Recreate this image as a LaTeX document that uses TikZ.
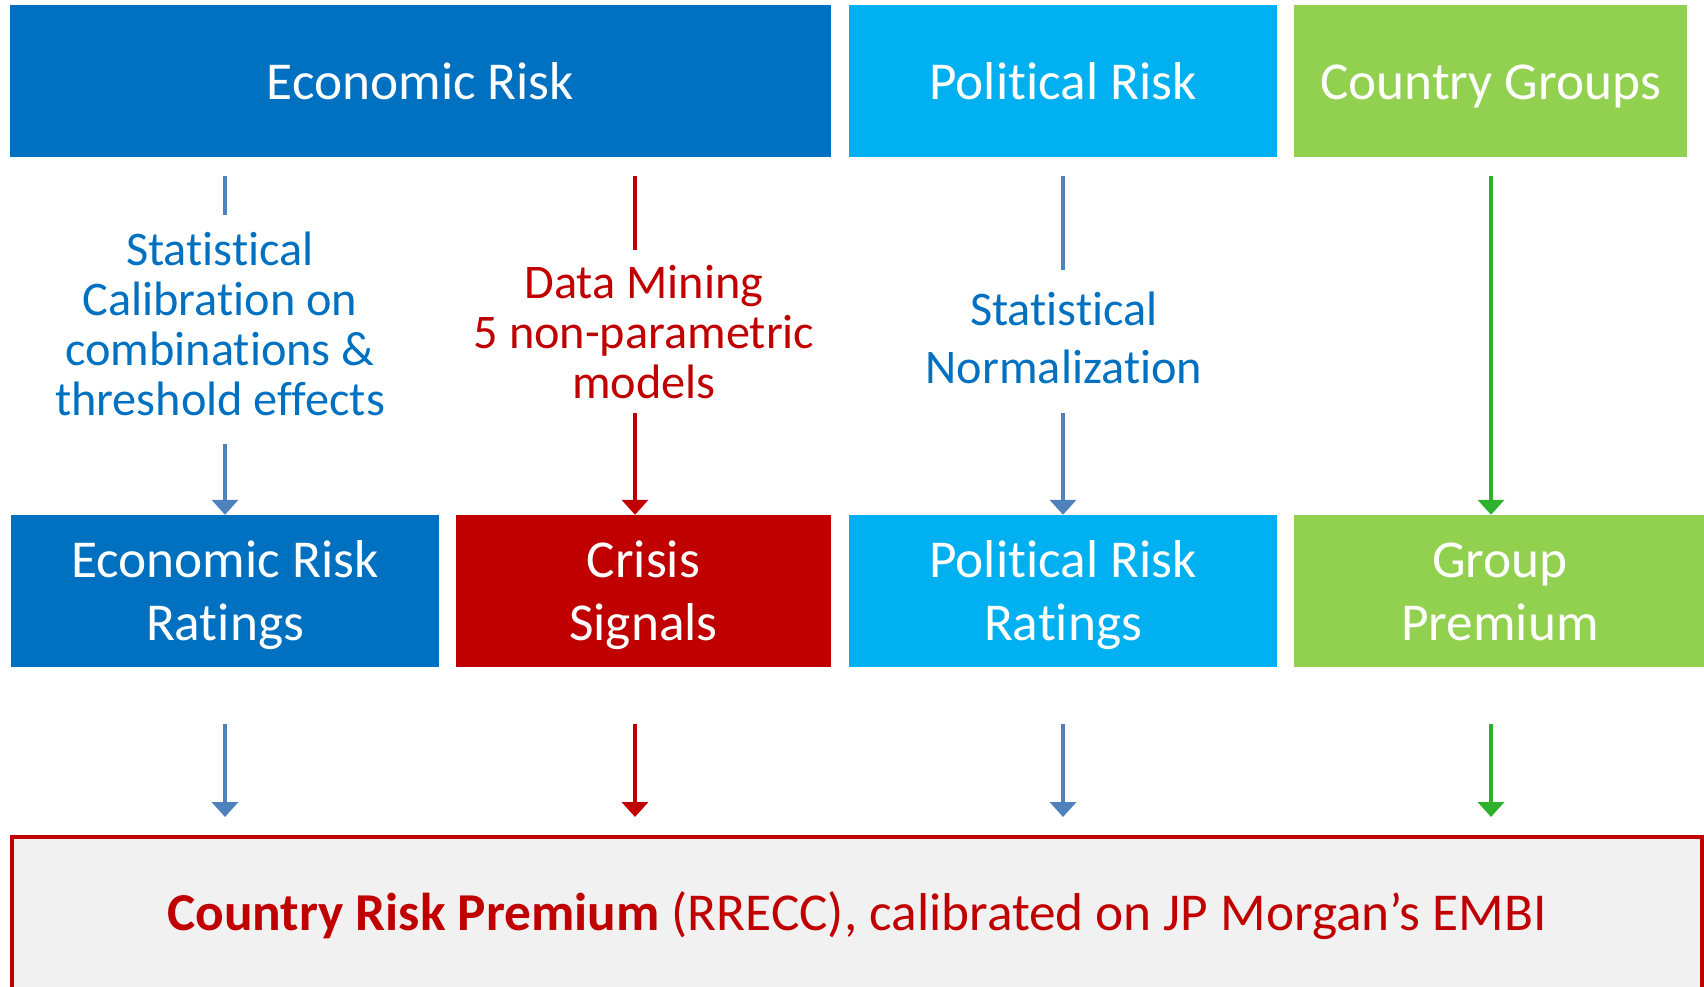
\documentclass[tikz,border=0pt]{standalone}
\usepackage{fontspec}
\setmainfont{Carlito}[RawFeature={-liga;-clig;-calt;-dlig}]
\usetikzlibrary{arrows.meta}
\definecolor{ecoblue}{HTML}{0070C0}
\definecolor{polblue}{HTML}{00B0F0}
\definecolor{grpgreen}{HTML}{92D050}
\definecolor{crisred}{HTML}{C00000}
\definecolor{arrblue}{HTML}{4F81BD}
\definecolor{arrgreen}{RGB}{46,178,46}
\definecolor{panelgray}{HTML}{F1F1F1}
\tikzset{
  box/.style={rectangle, inner sep=0pt, minimum height=152pt, text=white,
    align=center, font=\fontsize{53.3}{63}\selectfont},
  onebox/.style={box, text height=36pt, text depth=0pt},
  twobox/.style={box, text height=98pt, text depth=0pt},
  midlabel/.style={inner sep=0pt, anchor=base, align=center},
  conn/.style={line width=4.3pt},
  arr/.style={conn, -{Triangle[width=26pt,length=15pt]}},
}
\begin{document}
\begin{tikzpicture}[x=1pt,y=-1pt]
\useasboundingbox (0,0) rectangle (1704,986);
\clip (0,0) rectangle (1704,986);
% top row
\node[onebox, fill=ecoblue, minimum width=821pt] (er) at (420.5,81) {Economic Risk};
\node[onebox, fill=polblue, minimum width=428pt] (pr) at (1063,81) {Political Risk};
\node[onebox, fill=grpgreen, minimum width=393pt] (cg) at (1490.5,81) {Country Groups};
% second row
\node[twobox, fill=ecoblue, minimum width=428pt] (err) at (225,591) {Economic Risk\\Ratings};
\node[twobox, fill=crisred, minimum width=375pt] (cs) at (643.5,591) {Crisis\\Signals};
\node[twobox, fill=polblue, minimum width=428pt] (prr) at (1063,591) {Political Risk\\Ratings};
\node[twobox, fill=grpgreen, minimum width=412pt] (gp) at (1500,591) {Group\\Premium};
% bottom panel
\node[rectangle, draw=crisred, line width=4pt, fill=panelgray, inner sep=0pt,
  minimum width=1690pt, minimum height=203pt, text height=36pt, text depth=53pt,
  text=crisred, font=\fontsize{53.3}{63}\selectfont] (crp) at (857,938.5)
  {\textbf{Country Risk Premium} (RRECC), calibrated on JP Morgan’s EMBI};
% middle labels
\node[midlabel, text=ecoblue, font=\fontsize{48.3}{50}\selectfont] (l1) at (220,415)
  {Statistical\\Calibration on\\combinations \&\\threshold effects};
\node[midlabel, text=crisred, font=\fontsize{48.3}{50}\selectfont] (l2) at (644,398)
  {Data Mining\\5 non-parametric\\models};
\node[midlabel, text=ecoblue, font=\fontsize{48.3}{58}\selectfont] (l3) at (1064,383)
  {Statistical\\Normalization};
% coordinates for connector ends
\coordinate (s1a) at (225,176); \coordinate (s1b) at (225,215); \coordinate (a1) at (225,444);
\coordinate (s2a) at (635,176); \coordinate (s2b) at (635,250); \coordinate (a2) at (635,413);
\coordinate (s3a) at (1063,176); \coordinate (s3b) at (1063,270); \coordinate (a3) at (1063,413);
\coordinate (s4a) at (1491,176);
\coordinate (b1) at (225,724); \coordinate (b2) at (635,724);
\coordinate (b3) at (1063,724); \coordinate (b4) at (1491,724);
% upper connectors
\draw[conn, arrblue] (s1a) -- (s1b);
\draw[arr, arrblue] (a1) -- (a1 |- err.north);
\draw[conn, crisred] (s2a) -- (s2b);
\draw[arr, crisred] (a2) -- (a2 |- cs.north);
\draw[conn, arrblue] (s3a) -- (s3b);
\draw[arr, arrblue] (a3) -- (a3 |- prr.north);
\draw[arr, arrgreen] (s4a) -- (s4a |- gp.north);
% lower connectors
\draw[arr, arrblue] (b1) -- ([yshift=18pt]b1 |- crp.north);
\draw[arr, crisred] (b2) -- ([yshift=18pt]b2 |- crp.north);
\draw[arr, arrblue] (b3) -- ([yshift=18pt]b3 |- crp.north);
\draw[arr, arrgreen] (b4) -- ([yshift=18pt]b4 |- crp.north);
\end{tikzpicture}
\end{document}
